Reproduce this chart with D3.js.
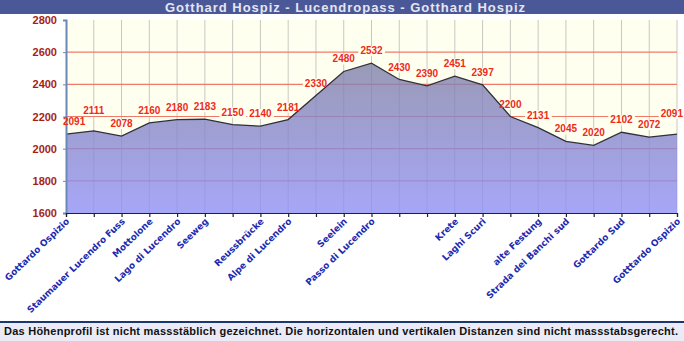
<!DOCTYPE html>
<html><head><meta charset="utf-8">
<script src="https://cdn.jsdelivr.net/npm/d3@7"></script>
<style>html,body{margin:0;padding:0;background:#fff;}svg{display:block;}</style>
</head><body>
<svg id="c" width="684" height="341"></svg>
<script>
const titleText = "Gotthard Hospiz - Lucendropass - Gotthard Hospiz";
const footerText = "Das Höhenprofil ist nicht massstäblich gezeichnet. Die horizontalen und vertikalen Distanzen sind nicht massstabsgerecht.";
const elevations = [2091,2111,2078,2160,2180,2183,2150,2140,2181,2330,2480,2532,2430,2390,2451,2397,2200,2131,2045,2020,2102,2072,2091];
const placeNames = ["Gottardo Ospizio","","Staumauer Lucendro Fuss","Mottolone","Lago di Lucendro","Seeweg","","Reussbrücke","Alpe di Lucendro","","Seelein","Passo di Lucendro","","","Krete","Laghi Scuri","","alte Festung","Strada dei Banchi sud","","Gottardo Sud","","Gotttardo Ospizio"];
const yTicks = [1600,1800,2000,2200,2400,2600,2800];
const gridLevels = [1800,2000,2200,2400,2600];

const svg = d3.select("#c");
const W = 684, H = 341;
const m = {l:66, r:677, t:20, b:213};

const x = d3.scaleLinear().domain([0, elevations.length-1]).range([m.l, m.r]);
const y = d3.scaleLinear().domain([1600,2800]).range([m.b, m.t]);

// title bar
svg.append("rect").attr("x",0).attr("y",0).attr("width",W).attr("height",14).attr("fill","#4a5898");
svg.append("text").attr("x",345).attr("y",11.5).attr("text-anchor","middle")
  .attr("font-family","Liberation Sans, Arial, sans-serif").attr("font-weight","bold").attr("font-size",13)
  .attr("fill","#e4e6f2").attr("textLength",360).attr("lengthAdjust","spacing").text(titleText);

// plot background
svg.append("rect").attr("x",m.l).attr("y",m.t).attr("width",m.r-m.l).attr("height",m.b-m.t).attr("fill","#fffff0");

// vertical grid
svg.append("g").selectAll("line").data(d3.range(1, elevations.length)).join("line")
  .attr("x1",d=>x(d)).attr("x2",d=>x(d)).attr("y1",m.t).attr("y2",m.b)
  .attr("stroke","#c8c8c0").attr("stroke-width",1);
// horizontal grid
svg.append("g").selectAll("line").data(gridLevels).join("line")
  .attr("x1",m.l).attr("x2",m.r).attr("y1",d=>y(d)).attr("y2",d=>y(d))
  .attr("stroke","#f07a6a").attr("stroke-width",1.2);

// label background layer (under the area, above grid)
const labelBg = svg.append("g");

// gradient
const defs = svg.append("defs");
const g = defs.append("linearGradient").attr("id","ag")
  .attr("gradientUnits","userSpaceOnUse").attr("x1",0).attr("x2",0).attr("y1",y(2532)).attr("y2",m.b);
g.append("stop").attr("offset","0%").attr("stop-color","#8080a8");
g.append("stop").attr("offset","100%").attr("stop-color","#9090fa");

const area = d3.area().x((d,i)=>x(i)).y0(m.b).y1(d=>y(d));
svg.append("path").datum(elevations).attr("d",area).attr("fill","url(#ag)").attr("fill-opacity",0.8);
const line = d3.line().x((d,i)=>x(i)).y(d=>y(d));
svg.append("path").datum(elevations).attr("d",line).attr("fill","none").attr("stroke","#303038").attr("stroke-width",1.3);

// axes
const yAxis = d3.axisLeft(y).tickValues(yTicks).tickSize(3).tickFormat(d3.format("d"));
const ya = svg.append("g").attr("transform",`translate(${m.l},0)`).call(yAxis);
ya.select(".domain").attr("stroke","#6a88b8").attr("stroke-width",2);
ya.selectAll(".tick line").attr("stroke","#6a88b8");
ya.selectAll(".tick text").attr("x",-9).attr("font-family","Liberation Sans, Arial, sans-serif")
  .attr("font-weight","bold").attr("font-size",11).attr("fill","#a81c14");

const xAxis = d3.axisBottom(x).tickValues(d3.range(elevations.length)).tickSize(4).tickFormat("");
const xa = svg.append("g").attr("transform",`translate(0,${m.b})`).call(xAxis);
xa.select(".domain").attr("stroke","#222").attr("stroke-width",1.2);
xa.selectAll(".tick line").attr("stroke","#222").attr("stroke-width",1.2);

// x labels
svg.append("g").selectAll("text").data(placeNames).join("text")
  .attr("transform",(d,i)=>`translate(${x(i)+4},${m.b+9}) rotate(-44)`)
  .attr("text-anchor","end").attr("font-family","DejaVu Sans, Verdana, sans-serif")
  .attr("font-weight","bold").attr("font-size",9).attr("fill","#1c2ab0").text(d=>d);

// data labels with simple collision avoidance (move up)
const lg = svg.append("g");
const placed = [];
const pad = 2;
elevations.forEach((v,i)=>{
  let lx = x(i), anchor = "middle";
  if (i===0){ lx = x(i)-3; anchor="start"; }
  if (i===elevations.length-1){ lx = W-1; anchor="end"; }
  let ly = y(v)-9;
  const t = lg.append("text").attr("x",lx).attr("y",ly).attr("text-anchor",anchor)
    .attr("font-family","Liberation Sans, Arial, sans-serif").attr("font-weight","bold").attr("font-size",10)
    .attr("fill","#ee2a1a").text(v);
  let bb = t.node().getBBox();
  const hit = b => placed.some(p => b.x-pad < p.x+p.width && b.x+b.width+pad > p.x && b.y < p.y+p.height && b.y+b.height > p.y);
  let guard = 0;
  while (hit(bb) && guard++ < 60){ ly -= 1; t.attr("y",ly); bb = t.node().getBBox(); }
  placed.push(bb);
  labelBg.append("rect").attr("x",bb.x-2).attr("y",bb.y+1).attr("width",bb.width+4).attr("height",bb.height-1).attr("fill","#fffff0");
});

// footer
svg.append("line").attr("x1",0).attr("x2",W).attr("y1",322).attr("y2",322).attr("stroke","#1c3670").attr("stroke-width",2);
svg.append("rect").attr("x",0).attr("y",323).attr("width",W).attr("height",18).attr("fill","#ebebf7");
svg.append("text").attr("x",4).attr("y",335).attr("font-family","Liberation Sans, Arial, sans-serif")
  .attr("font-weight","bold").attr("font-size",11).attr("fill","#111").attr("textLength",674).attr("lengthAdjust","spacing").text(footerText);
</script>
</body></html>
